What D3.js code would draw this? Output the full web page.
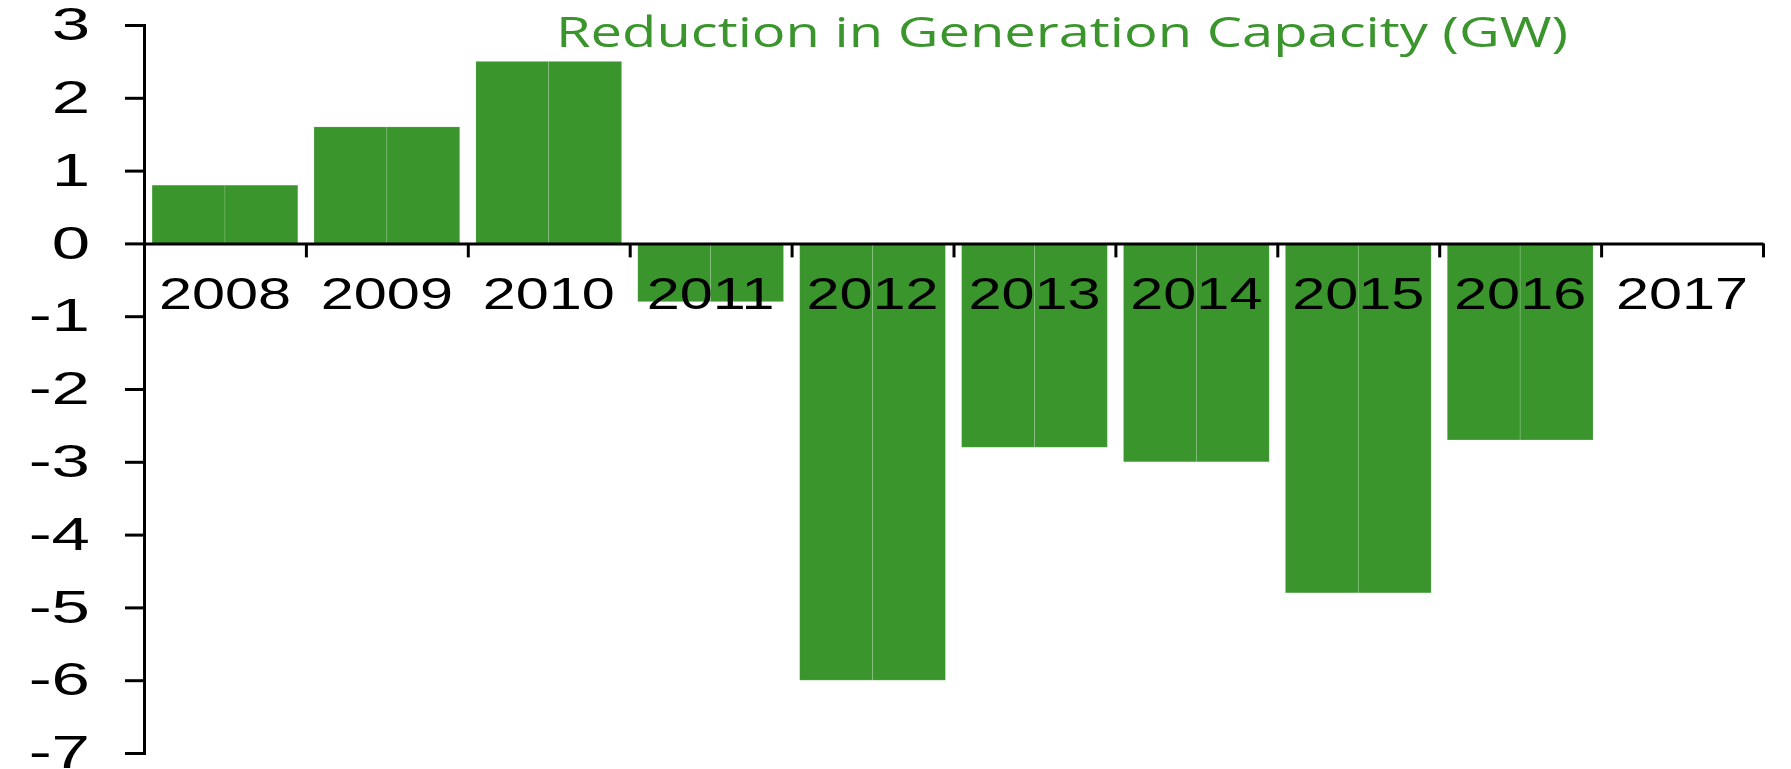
<!DOCTYPE html>
<html>
<head>
<meta charset="utf-8">
<script src="https://cdn.jsdelivr.net/npm/d3@7"></script>
<style>
  body { margin: 0; background: #fff; }
  svg { display: block; }
</style>
</head>
<body>
<svg id="chart"></svg>
<script>
// data
const years = ["2008", "2009", "2010", "2011", "2012", "2013", "2014", "2015", "2016", "2017"];
const firstHalf = [0.8, 1.6, 2.5, -0.8, -6.0, -2.8, -3.0, -4.8, -2.7, 0];
const secondHalf = [0.8, 1.6, 2.5, -0.8, -6.0, -2.8, -3.0, -4.8, -2.7, 0];
const yTicks = [3, 2, 1, 0, -1, -2, -3, -4, -5, -6, -7];
const title = "Reduction in Generation Capacity (GW)";

const green = "#3a952c";

const config = {
  width: 1791,
  height: 769,
  margin: { top: 25, right: 28, bottom: 16, left: 144 }
};

const svg = d3.select("#chart").attr("width", config.width).attr("height", config.height);

const x = d3.scaleBand()
  .domain(years)
  .range([config.margin.left, config.width - config.margin.right])
  .paddingInner(0.1)
  .paddingOuter(0.05);

const halves = d3.scaleBand().domain([0, 1]).range([0, x.bandwidth()]);

const y = d3.scaleLinear()
  .domain([-7, 3])
  .range([config.height - config.margin.bottom, config.margin.top]);

// bars, two halves per year
const rows = years.map((yr, i) => ({ year: yr, values: [firstHalf[i], secondHalf[i]] }));

const barG = svg.append("g").attr("class", "bars");
barG.selectAll("g")
  .data(rows)
  .join("g")
  .attr("transform", d => `translate(${x(d.year)},0)`)
  .selectAll("rect")
  .data(d => d.values.map((v, k) => ({ k, v })))
  .join("rect")
  .attr("x", d => halves(d.k))
  .attr("width", halves.bandwidth())
  .attr("y", d => y(Math.max(0, d.v)))
  .attr("height", d => Math.abs(y(d.v) - y(0)))
  .attr("fill", green)
  .attr("stroke", "rgba(255,255,255,0.18)")
  .attr("stroke-width", 0.8);

// y axis
const yScaleX = 1.5;
const yAxis = svg.append("g")
  .attr("transform", `translate(${config.margin.left},0)`)
  .call(d3.axisLeft(y).tickValues(yTicks).tickSize(19).tickSizeOuter(19).tickPadding(35).tickFormat(d3.format("d")));

yAxis.selectAll("path, line").attr("stroke", "#000").attr("stroke-width", 3);
yAxis.selectAll("text")
  .attr("font-family", "Liberation Sans, Arial, sans-serif")
  .attr("font-size", 46)
  .attr("fill", "#000")
  .attr("x", function() { return +d3.select(this).attr("x") / yScaleX; })
  .attr("transform", `scale(${yScaleX},1)`)
  .text(d => d < 0 ? "-" + Math.abs(d) : d);

// x axis: boundary ticks between categories
const bounds = d3.scaleLinear().domain([0, years.length]).range(x.range());
const xAxis = svg.append("g")
  .attr("transform", `translate(0,${y(0)})`)
  .call(d3.axisBottom(bounds).tickValues(d3.range(years.length + 1)).tickSize(14).tickSizeOuter(0).tickFormat(""));
xAxis.selectAll("path, line").attr("stroke", "#000").attr("stroke-width", 3);

// x labels at band centres
const xScaleX = 1.32;
const xLabels = svg.append("g")
  .attr("transform", `translate(0,${y(0)})`)
  .call(d3.axisBottom(x).tickSize(0).tickPadding(34));
xLabels.select(".domain").remove();
xLabels.selectAll(".tick").each(function() {
  const t = d3.select(this);
  const tx = x(t.datum()) + x.bandwidth() / 2;
  t.attr("transform", `translate(${tx},0) scale(${xScaleX},1)`);
});
xLabels.selectAll("text")
  .attr("font-family", "Liberation Sans, Arial, sans-serif")
  .attr("font-size", 45)
  .attr("fill", "#000");

// title
svg.append("text")
  .attr("x", 556)
  .attr("y", 47)
  .attr("font-family", "Open Sans, sans-serif")
  .attr("font-size", 42)
  .attr("fill", green)
  .attr("textLength", 1012)
  .attr("lengthAdjust", "spacingAndGlyphs")
  .text(title);
</script>
</body>
</html>
